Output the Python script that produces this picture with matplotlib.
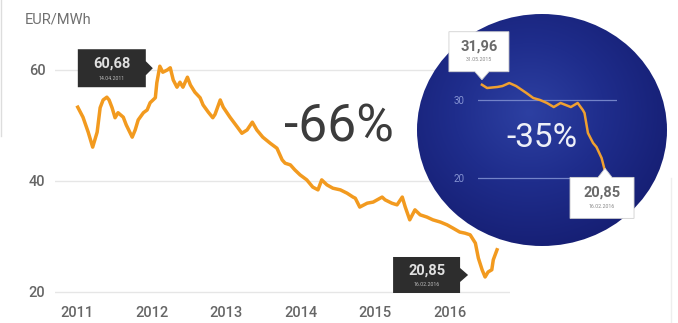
import matplotlib
matplotlib.use('Agg')
import matplotlib.pyplot as plt
import numpy as np
from matplotlib.patches import Ellipse, Polygon
from matplotlib.colors import LinearSegmentedColormap

# ---------------- data ----------------
years = [2011.01, 2011.08, 2011.15, 2011.21, 2011.27, 2011.31, 2011.35, 2011.40, 2011.43, 2011.47,
         2011.51, 2011.55, 2011.62, 2011.66, 2011.74, 2011.78, 2011.82, 2011.89, 2011.94, 2011.98,
         2012.05, 2012.07, 2012.11, 2012.15, 2012.21, 2012.25, 2012.29, 2012.34, 2012.38, 2012.42,
         2012.48, 2012.52, 2012.58, 2012.65, 2012.69, 2012.76, 2012.82, 2012.85, 2012.92, 2012.96,
         2013.05, 2013.15, 2013.21, 2013.28, 2013.35, 2013.41, 2013.49, 2013.59, 2013.68, 2013.75,
         2013.79, 2013.86, 2013.92, 2013.99, 2014.08, 2014.16, 2014.23, 2014.28, 2014.35, 2014.43,
         2014.53, 2014.62, 2014.70, 2014.73, 2014.79, 2014.89, 2014.97, 2015.09, 2015.13, 2015.22,
         2015.29, 2015.36, 2015.40, 2015.46, 2015.53, 2015.60, 2015.69, 2015.77, 2015.87, 2015.96,
         2016.04, 2016.13, 2016.20, 2016.27, 2016.34, 2016.38, 2016.43, 2016.47, 2016.51, 2016.56,
         2016.58, 2016.63]
prices = [53.3, 51.5, 48.8, 46.1, 48.8, 53.2, 54.6, 55.1, 54.6, 53.2,
          51.4, 52.3, 51.5, 50.1, 47.9, 49.2, 51.0, 52.3, 52.8, 54.1,
          55.0, 57.7, 60.68, 59.6, 60.0, 60.4, 58.2, 56.9, 57.8, 56.9,
          58.7, 57.3, 56.0, 55.0, 53.7, 52.4, 51.4, 52.0, 54.6, 53.3,
          51.5, 49.7, 48.6, 49.2, 50.6, 49.2, 47.9, 46.8, 45.9, 43.8,
          43.2, 42.9, 42.0, 41.1, 40.2, 38.9, 38.4, 40.2, 39.3, 38.7,
          38.4, 37.8, 37.1, 36.9, 35.3, 36.0, 36.2, 37.1, 36.6, 36.0,
          35.7, 37.1, 35.3, 33.0, 34.8, 33.9, 33.5, 33.0, 32.6, 32.1,
          31.5, 30.8, 30.6, 30.3, 28.8, 26.1, 24.0, 22.7, 23.6, 24.0,
          25.8, 27.6]

inset_years = [2015.41, 2015.44, 2015.50, 2015.53, 2015.57, 2015.61, 2015.67, 2015.71, 2015.75,
               2015.79, 2015.83, 2015.87, 2015.93, 2015.97, 2016.00, 2016.01, 2016.03, 2016.06,
               2016.08, 2016.11, 2016.13]
inset_prices = [31.96, 31.54, 31.67, 31.79, 32.18, 31.79, 30.90, 30.26, 30.00,
                29.62, 29.10, 29.62, 29.10, 29.62, 28.72, 28.33, 25.77, 24.49,
                23.97, 22.56, 20.85]

x_ticks = [2011, 2012, 2013, 2014, 2015, 2016]
x_tick_labels = ['2011', '2012', '2013', '2014', '2015', '2016']
y_ticks = [20, 40, 60]
inset_y_ticks = [20, 30]

unit_label = 'EUR/MWh'
main_change = '-66%'
inset_change = '-35%'
peak_label = ('60,68', '14.04.2011')
low_label = ('20,85', '16.02.2016')
inset_start_label = ('31,96', '31.05.2015')
inset_end_label = ('20,85', '16.02.2016')

# ---------------- figure ----------------
W, H = 678, 323
fig = plt.figure(figsize=(W / 100, H / 100), dpi=100)
fig.patch.set_facecolor('white')

FONT = ['Roboto', 'DejaVu Sans']


def fb(x0, y0, x1, y1):
    return [x0 / W, 1 - y1 / H, (x1 - x0) / W, (y1 - y0) / H]


orange = '#f29a1f'

# main axes
ax = fig.add_axes(fb(55, 36.7, 510, 300.3), zorder=1)
ax.set_xlim(2010.705, 2016.804)
ax.set_ylim(18.5, 66)
ax.plot(years, prices, color=orange, lw=2.5, solid_joinstyle='round', zorder=3)
ax.set_yticks(y_ticks)
ax.set_xticks(x_ticks)
ax.set_xticklabels(x_tick_labels)
ax.grid(axis='y', color='#e6e6e6', lw=1)
ax.grid(axis='x', visible=False)
for s in ax.spines.values():
    s.set_visible(False)
ax.tick_params(length=0, labelcolor='#666666', labelsize=10.5)
ax.tick_params(axis='y', pad=7)
ax.tick_params(axis='x', pad=4)
for lab in ax.get_xticklabels() + ax.get_yticklabels():
    lab.set_family(FONT)
    lab.set_fontweight('medium')
ax.set_facecolor('none')

# background overlay (circle)
ovb = fig.add_axes([0, 0, 1, 1], zorder=2)
ovb.set_facecolor('none')
ovb.axis('off')
cx, cy, rx, ry = 542, 130, 125, 116
n = 300
yy, xx = np.mgrid[-1:1:n * 1j, -1:1:n * 1j]
rr = np.sqrt((xx + 0.1) ** 2 + (yy + 0.15) ** 2)
cmap = LinearSegmentedColormap.from_list('c', ['#2d40a2', '#1f2d8c', '#161f74'])
im = ovb.imshow(rr, cmap=cmap, extent=(cx - rx, cx + rx, cy + ry, cy - ry), vmin=0, vmax=1.2,
                interpolation='bilinear', zorder=1)
ell = Ellipse((cx, cy), 2 * rx, 2 * ry, facecolor='none', edgecolor='none')
ovb.add_patch(ell)
im.set_clip_path(ell)
ovb.set_aspect('auto')
ovb.set_xlim(0, W)
ovb.set_ylim(H, 0)
# faint frame lines
ovb.plot([1, 1], [0, 136], color='#dddddd', lw=1)
ovb.plot([671, 671], [178, 323], color='#eeeeee', lw=1)

# inset axes
ins = fig.add_axes(fb(478, 60, 617, 200), zorder=3)
ins.set_facecolor('none')
ins.set_xlim(2015.387, 2016.200)
ins.set_ylim(17.18, 35.13)
ins.plot(inset_years, inset_prices, color='#f0a030', lw=1.8, solid_joinstyle='round', zorder=3)
ins.set_yticks(inset_y_ticks)
ins.set_xticks([])
ins.grid(axis='y', color='#7383c8', lw=0.9)
for s in ins.spines.values():
    s.set_visible(False)
ins.tick_params(length=0, labelcolor='#8593d2', labelsize=7, pad=10)
for lab in ins.get_yticklabels():
    lab.set_family(FONT)

# front overlay (texts, tooltips)
ov = fig.add_axes([0, 0, 1, 1], zorder=4)
ov.set_facecolor('none')
ov.axis('off')
ov.set_xlim(0, W)
ov.set_ylim(H, 0)


def to_px(axes, x, y):
    dx, dy = axes.transData.transform((x, y))
    return dx, H - dy


ov.text(25, 19, unit_label, fontsize=10.5, color='#707070', family=FONT, ha='left', va='center')
ov.text(339, 128, main_change, fontsize=37, color='#3c3c3c', family=FONT, fontweight='normal',
        ha='center', va='center')
ov.text(542, 138, inset_change, fontsize=24, color='#eef0f8', family=FONT, fontweight='normal',
        ha='center', va='center')


def dark_tip(tx, ty, bw, bh, gap, label):
    x1 = tx - gap
    x0 = x1 - bw
    yc = ty
    y0, y1 = yc - bh / 2, yc + bh / 2
    pts = [(x0, y0), (x1, y0), (x1, ty - 7), (tx, ty), (x1, ty + 7), (x1, y1), (x0, y1)]
    ov.add_patch(Polygon(pts, closed=True, facecolor='#2d2d2d', edgecolor='none', zorder=5))
    xm = (x0 + x1) / 2
    ov.text(xm, y0 + bh * 0.38, label[0], fontsize=10.5, fontweight='bold', color='#e0e0e0',
            family=FONT, ha='center', va='center', zorder=6)
    ov.text(xm, y0 + bh * 0.76, label[1], fontsize=3.8, color='#bbbbbb',
            family=FONT, ha='center', va='center', zorder=6)


def light_tip(tx, ty, bw, bh, gap, label, up):
    xm = tx - 3
    x0, x1 = xm - bw / 2, xm + bw / 2
    if up:
        y0 = ty + gap
        y1 = y0 + bh
        pts = [(x0, y0), (tx - 7, y0), (tx, ty), (tx + 7, y0), (x1, y0), (x1, y1), (x0, y1)]
    else:
        y1 = ty - gap
        y0 = y1 - bh
        pts = [(x0, y0), (x1, y0), (x1, y1), (tx + 7, y1), (tx, ty), (tx - 7, y1), (x0, y1)]
    ov.add_patch(Polygon(pts, closed=True, facecolor='white', edgecolor='#d0d0d0', lw=0.6, zorder=5))
    ov.text(xm, y0 + bh * 0.36, label[0], fontsize=10.5, fontweight='bold', color='#6a6a6a',
            family=FONT, ha='center', va='center', zorder=6)
    ov.text(xm, y0 + bh * 0.7, label[1], fontsize=3.8, color='#888888',
            family=FONT, ha='center', va='center', zorder=6)


# peak tooltip
i_peak = int(np.argmax(prices))
px_, py_ = to_px(ax, years[i_peak], prices[i_peak])
dark_tip(px_ - 7, py_ + 2, 68, 38, 7, peak_label)

# low tooltip
i_low = int(np.argmin(prices))
px_, py_ = to_px(ax, years[i_low], prices[i_low])
dark_tip(px_ - 17, py_ - 2, 67, 36, 8, low_label)

# inset start tooltip
px_, py_ = to_px(ins, inset_years[0], inset_prices[0])
light_tip(px_, py_ - 5, 60, 40, 8, inset_start_label, up=False)

# inset end tooltip
px_, py_ = to_px(ins, inset_years[-1], inset_prices[-1])
light_tip(px_, py_ - 3, 64, 41, 9, inset_end_label, up=True)

fig.savefig('out.png', dpi=100)
